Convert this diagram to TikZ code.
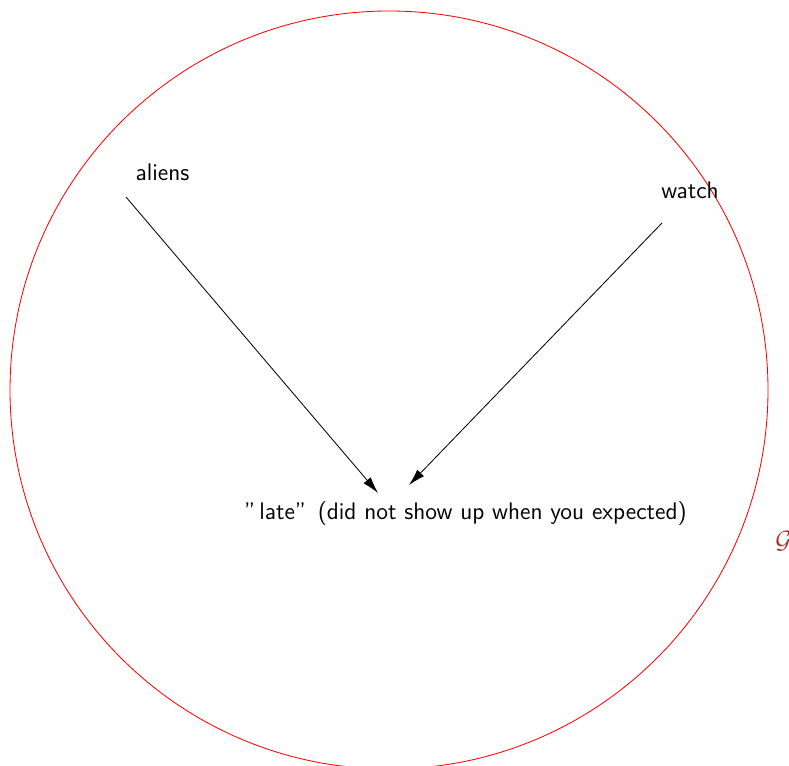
\documentclass[tikz,border=0pt]{standalone}
\usepackage{tikz}
\usetikzlibrary{arrows.meta}
\definecolor{gcol}{RGB}{170,50,40}
\begin{document}
\begin{tikzpicture}[x=0.48pt,y=-0.48pt,
  lbl/.style={font=\sffamily\fontsize{11.5}{13.8}\selectfont, inner sep=0pt},
  arr/.style={-{Latex[length=8pt,width=4.5pt]}, black, thin}]
\useasboundingbox (0,0) rectangle (789,766);
\draw[red] (389,390) circle[radius=379*0.48pt];
\node[lbl] (aliens) at (162.5,172) {aliens};
\node[lbl] (watch) at (690,190) {watch};
\node[lbl] (late) at (465.5,514) {''\,late'' \,(did not show up when you expected)};
\node[font=\fontsize{13}{15}\selectfont, text=gcol, inner sep=0pt, anchor=west] (G) at (775,541) {$\mathcal{G}$};
\coordinate (s1) at (126,197);
\coordinate (e1) at (378,493);
\coordinate (s2) at (662,223);
\coordinate (e2) at (409,485);
\draw[arr] (s1) -- (e1);
\draw[arr] (s2) -- (e2);
\end{tikzpicture}
\end{document}
